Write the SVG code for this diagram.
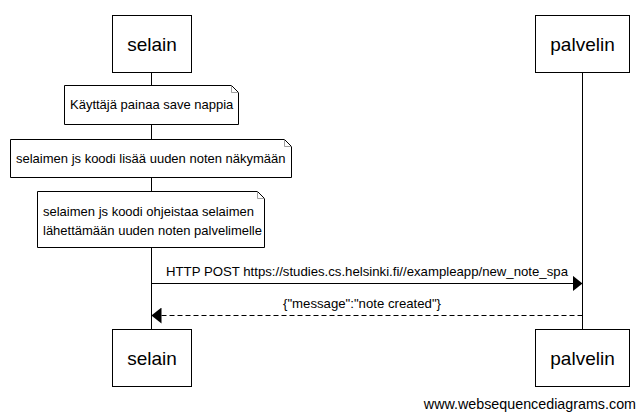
<svg xmlns="http://www.w3.org/2000/svg" width="644" height="419" viewBox="0 0 644 419">
<style>
.box{fill:#fff;stroke:#000;stroke-width:1}
.note{fill:#fff;stroke:#000;stroke-width:1}
.fold{fill:none;stroke:#888;stroke-width:0.8}
.life{stroke:#000;stroke-width:1}
.msg{stroke:#000;stroke-width:1;fill:none}
.dash{stroke-dasharray:5,3}
.pt{font-family:"Liberation Sans",Arial,sans-serif;font-size:19px;fill:#000;text-anchor:middle}
.t{font-family:"Liberation Sans",Arial,sans-serif;font-size:13px;fill:#000}
.m{font-size:13.2px;text-anchor:middle}
.foot{font-family:"Liberation Sans",Arial,sans-serif;font-size:14.3px;fill:#000;text-anchor:end}
</style>
<defs>
<marker id="ah" markerWidth="10" markerHeight="16" refX="10" refY="8" orient="auto" markerUnits="userSpaceOnUse">
<path d="M0,0 L10,8 L0,16 Z" fill="#000"/>
</marker>
</defs>
<g id="lifelines">
<line class="life" x1="151.5" y1="72" x2="151.5" y2="329"/>
<line class="life" x1="582.5" y1="72" x2="582.5" y2="329"/>
</g>
<g id="selain-top"><rect class="box" x="112.5" y="15.5" width="79" height="57"/><text class="pt" x="152" y="51">selain</text></g>
<g id="palvelin-top"><rect class="box" x="535.5" y="15.5" width="94" height="57"/><text class="pt" x="582.5" y="51">palvelin</text></g>
<g id="note1">
<path class="note" d="M64.5,85.5 H231.5 L238.5,92.5 V124.5 H64.5 Z"/>
<path class="fold" d="M231.5,85.5 V92.5 H238.5"/>
<text class="t" x="70" y="108.5">Käyttäjä painaa save nappia</text>
</g>
<g id="note2">
<path class="note" d="M10.5,139.5 H284.5 L291.5,146.5 V177.5 H10.5 Z"/>
<path class="fold" d="M284.5,139.5 V146.5 H291.5"/>
<text class="t" x="16" y="162.5">selaimen js koodi lisää uuden noten näkymään</text>
</g>
<g id="note3">
<path class="note" d="M37.5,191.5 H257.5 L264.5,198.5 V247.5 H37.5 Z"/>
<path class="fold" d="M257.5,191.5 V198.5 H264.5"/>
<text class="t" x="43" y="215.5">selaimen js koodi ohjeistaa selaimen</text>
<text class="t" x="43" y="234.5">lähettämään uuden noten palvelimelle</text>
</g>
<g id="connectors">
<line class="msg" x1="151.5" y1="283.5" x2="582.5" y2="283.5" marker-end="url(#ah)"/>
<text class="t m" x="367" y="276">HTTP POST https://studies.cs.helsinki.fi//exampleapp/new_note_spa</text>
<line class="msg dash" x1="582.5" y1="315.5" x2="151.5" y2="315.5" marker-end="url(#ah)"/>
<text class="t m" x="362" y="307.5">{"message":"note created"}</text>
</g>
<g id="selain-bottom"><rect class="box" x="112.5" y="329.5" width="79" height="57"/><text class="pt" x="152" y="365">selain</text></g>
<g id="palvelin-bottom"><rect class="box" x="535.5" y="329.5" width="94" height="57"/><text class="pt" x="582.5" y="365">palvelin</text></g>
<text class="foot" x="636" y="409">www.websequencediagrams.com</text>
</svg>
